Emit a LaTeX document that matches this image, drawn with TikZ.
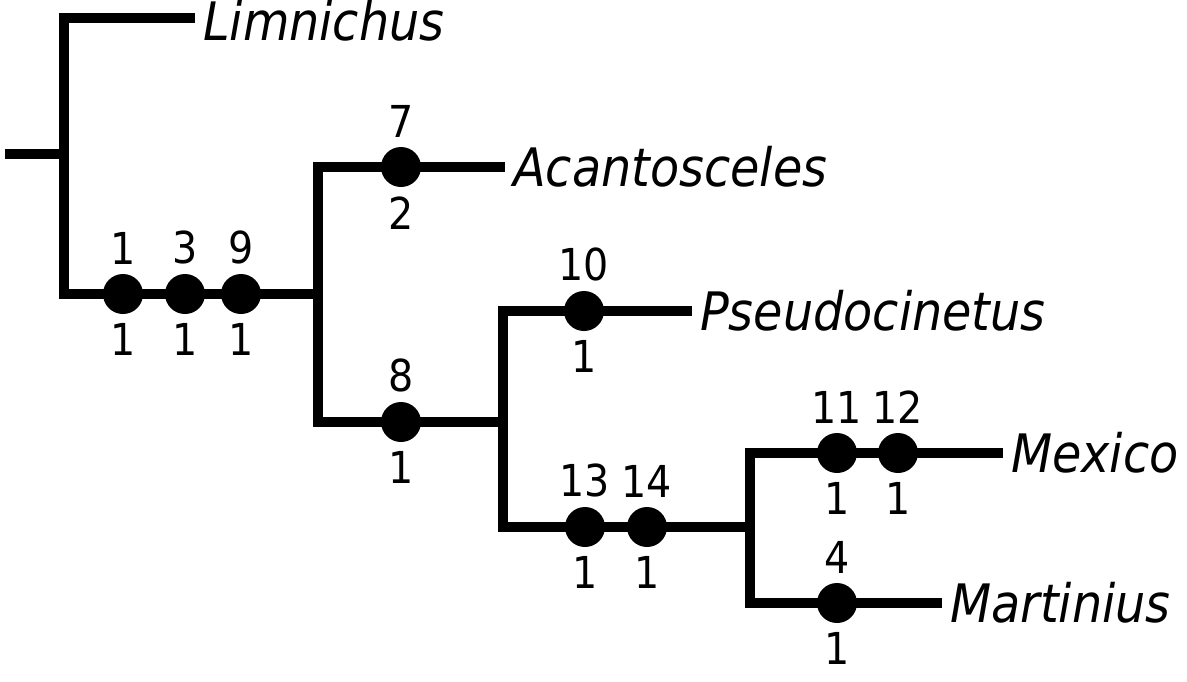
\documentclass[tikz,border=0pt]{standalone}
\usepackage{fontspec}
\setmainfont{DejaVu Sans Condensed}[ItalicFont={DejaVu Sans Condensed Oblique}]
\usepackage{tikz}
\usetikzlibrary{positioning}

\begin{document}
\begin{tikzpicture}[
    x=1pt, y=-1pt,
    node distance=8pt,
    branch/.style={line width=10pt, line cap=butt, line join=miter},
    apo/.style={circle, fill=black, minimum size=40pt, inner sep=0pt},
    taxon/.style={inner sep=0pt, font=\fontsize{53}{53}\selectfont\itshape},
    every label/.style={inner sep=0pt, font=\fontsize{44}{44}\selectfont},
    label distance=9pt,
]
\useasboundingbox (0,0) rectangle (1187,681);

% internal nodes and tips
\coordinate (root) at (5,154);
\coordinate (n0) at (64,154);
\coordinate (n1) at (318,294);
\coordinate (n2) at (503,422);
\coordinate (n3) at (750,527);
\coordinate (tLim) at (195,18);
\coordinate (tAca) at (505,167);
\coordinate (tPse) at (692,311);
\coordinate (tMex) at (1003,453);
\coordinate (tMar) at (942,603);

% branches
\draw[branch] (root) -- (n0);
\draw[branch] (tLim) -| (n0) |- (n1);
\draw[branch] (tAca) -| (n1) |- (n2);
\draw[branch] (tPse) -| (n2) |- (n3);
\draw[branch] (tMex) -| (n3) |- (tMar);

% apomorphies
\node[apo, label=above:1, label=below:1] (c1) at (123,294) {};
\node[apo, label=above:3, label=below:1] (c3) at (185,294) {};
\node[apo, label=above:9, label=below:1] (c9) at (241,294) {};
\node[apo, label=above:7, label=below:2] (c7) at (401,167) {};
\node[apo, label=above:8, label=below:1] (c8) at (401,422) {};
\node[apo, label=above:10, label=below:1] (c10) at (584,311) {};
\node[apo, label=above:13, label=below:1] (c13) at (585,527) {};
\node[apo, label=above:14, label=below:1] (c14) at (647,527) {};
\node[apo, label=above:11, label=below:1] (c11) at (837,453) {};
\node[apo, label=above:12, label=below:1] (c12) at (898,453) {};
\node[apo, label=above:4, label=below:1] (c4) at (837,603) {};

% taxa
\node[taxon, right=of tLim, yshift=-3pt] (lim) {Limnichus};
\node[taxon, right=of tAca] (aca) {Acantosceles};
\node[taxon, right=of tPse] (pse) {Pseudocinetus};
\node[taxon, right=of tMex] (mex) {Mexico};
\node[taxon, right=of tMar] (mar) {Martinius};
\end{tikzpicture}
\end{document}
